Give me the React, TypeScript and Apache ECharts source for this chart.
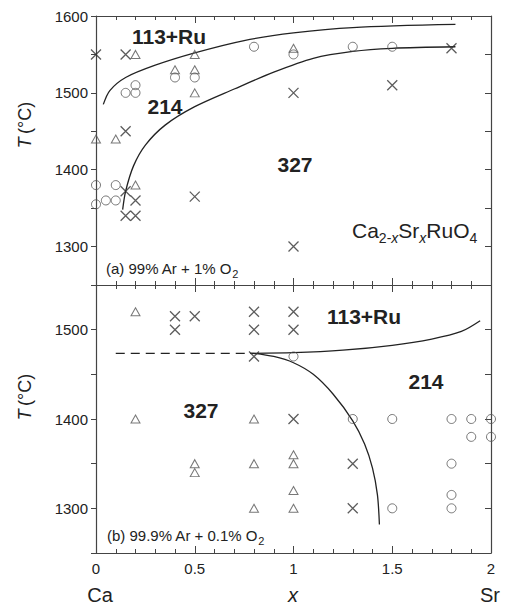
import React, { useEffect, useRef } from "react";
import * as echarts from "echarts";

// ---------- data (x = Sr content, T in °C) ----------
const xTickValues = [0, 0.5, 1, 1.5, 2];

// Panel (a): 99% Ar + 1% O2
const topCircles = [
  [0, 1380], [0.1, 1380], [0, 1355], [0.05, 1360], [0.1, 1360],
  [0.15, 1500], [0.2, 1500], [0.2, 1510], [0.4, 1520], [0.5, 1520],
  [0.8, 1560], [1, 1550], [1.3, 1560], [1.5, 1560],
];
const topTriangles = [
  [0.2, 1550], [0.5, 1550], [1, 1558], [0.4, 1530], [0.5, 1530],
  [0.5, 1500], [0, 1440], [0.1, 1440], [0.2, 1380],
];
const topCrosses = [
  [0, 1550], [0.15, 1550], [0.15, 1450], [0.15, 1372], [0.2, 1360],
  [0.15, 1340], [0.2, 1340], [0.5, 1365], [1, 1500], [1, 1300],
  [1.5, 1510], [1.8, 1558],
];
const topUpperCurve = [
  [0.037, 1485], [0.07, 1503], [0.15, 1520], [0.3, 1536], [0.5, 1552],
  [0.75, 1568], [1, 1578], [1.3, 1585], [1.82, 1589],
];
const topLowerCurve = [
  [0.135, 1348], [0.15, 1372], [0.19, 1405], [0.25, 1432], [0.35, 1458],
  [0.5, 1482], [0.7, 1505], [0.9, 1527], [1.1, 1545], [1.3, 1554],
  [1.5, 1558], [1.82, 1560],
];

// Panel (b): 99.9% Ar + 0.1% O2
const botCircles = [
  [1, 1470], [1.3, 1400], [1.5, 1400], [1.8, 1400], [1.9, 1400], [2, 1400],
  [1.9, 1380], [2, 1380], [1.8, 1350], [1.8, 1315], [1.8, 1300], [1.5, 1300],
];
const botTriangles = [
  [0.2, 1520], [0.2, 1400], [0.8, 1400], [0.5, 1350], [0.5, 1340],
  [0.8, 1350], [1, 1360], [1, 1350], [1, 1320], [0.8, 1300], [1, 1300],
];
const botCrosses = [
  [0.4, 1515], [0.5, 1515], [0.4, 1500], [0.8, 1520], [0.8, 1500],
  [1, 1520], [1, 1500], [0.8, 1470], [1, 1400], [1.3, 1350], [1.3, 1300],
];
const botDashed = [[0.1, 1473.5], [0.8, 1473.5]];
const botUpperCurve = [
  [0.78, 1473.5], [1.0, 1474.2], [1.25, 1477], [1.5, 1482.5], [1.7, 1489.5],
  [1.85, 1498], [1.945, 1510],
];
const botLowerCurve = [
  [0.8, 1473.5], [0.9, 1470], [1.0, 1463], [1.1, 1450], [1.2, 1428],
  [1.3, 1398], [1.36, 1372], [1.4, 1345], [1.425, 1315], [1.435, 1282],
];

const FONT = "'Liberation Sans', Arial, Helvetica, sans-serif";
const INK = "#222";
const AX = "#444";

const crossPath = "path://M0,0L10,10M0,10L10,0";

function xAxis(gridIndex: number, position: string, showLabel: boolean) {
  return {
    type: "value",
    gridIndex,
    position,
    min: 0,
    max: 2,
    interval: 0.5,
    axisLine: { show: true, onZero: false, lineStyle: { color: AX, width: 1.2 } },
    axisTick: { show: true, inside: true, length: 7, lineStyle: { color: AX, width: 1 } },
    minorTick: { show: true, splitNumber: 5, length: 4, lineStyle: { color: AX, width: 1 } },
    splitLine: { show: false },
    minorSplitLine: { show: false },
    axisLabel: {
      show: showLabel,
      margin: 8,
      fontSize: 15,
      color: INK,
      fontFamily: FONT,
      showMinLabel: true,
      showMaxLabel: true,
      formatter: (v: number) => (xTickValues.includes(v) ? String(v) : ""),
    },
  };
}

function yAxis(gridIndex: number, position: string, min: number, max: number) {
  const left = position === "left";
  return {
    type: "value",
    gridIndex,
    position,
    min,
    max,
    interval: 50,
    axisLine: { show: true, onZero: false, lineStyle: { color: AX, width: 1.2 } },
    axisTick: { show: true, inside: !left, length: left ? 5 : 6, lineStyle: { color: AX, width: 1 } },
    splitLine: { show: false },
    axisLabel: {
      show: left,
      margin: 8,
      fontSize: 15,
      color: INK,
      fontFamily: FONT,
      showMinLabel: true,
      showMaxLabel: true,
      formatter: (v: number) => (v % 100 === 0 ? String(v) : ""),
    },
  };
}

function scatter(data: number[][], kind: string, xi: number, yi: number) {
  const base: any = {
    type: "scatter",
    xAxisIndex: xi,
    yAxisIndex: yi,
    data,
    clip: false,
    z: 3,
  };
  if (kind === "circle") {
    base.symbol = "circle";
    base.symbolSize = 9;
    base.itemStyle = { color: "transparent", borderColor: "#555", borderWidth: 1 };
  } else if (kind === "triangle") {
    base.symbol = "triangle";
    base.symbolSize = [9, 8];
    base.itemStyle = { color: "transparent", borderColor: "#555", borderWidth: 1 };
  } else {
    base.symbol = crossPath;
    base.symbolSize = 10;
    base.itemStyle = { color: "transparent", borderColor: "#333", borderWidth: 1.3 };
  }
  return base;
}

function curve(data: number[][], xi: number, yi: number, dashed = false) {
  return {
    type: "line",
    xAxisIndex: xi,
    yAxisIndex: yi,
    data,
    showSymbol: false,
    symbol: "none",
    smooth: dashed ? false : 0.3,
    clip: false,
    lineStyle: { color: INK, width: 1.3, type: dashed ? [9, 6] : "solid" },
    z: 2,
  };
}

function txt(x: number, y: number, text: string, size: number, extra: any = {}) {
  return {
    type: "text",
    x,
    y,
    z: 10,
    style: {
      text,
      fontSize: size,
      fontFamily: FONT,
      fill: INK,
      align: "center",
      verticalAlign: "middle",
      ...extra,
    },
  };
}

export default function App() {
  const ref = useRef<HTMLDivElement>(null);

  useEffect(() => {
    if (!ref.current) return;
    const chart = echarts.init(ref.current, undefined, { renderer: "svg" });

    const subRich = {
      m: { fontSize: 21, fontFamily: FONT, fill: INK, lineHeight: 30, verticalAlign: "middle" },
      s: { fontSize: 14, fontFamily: FONT, fill: INK, lineHeight: 14, verticalAlign: "bottom" },
      si: { fontSize: 14, fontFamily: FONT, fill: INK, lineHeight: 14, verticalAlign: "bottom", fontStyle: "italic" },
    };
    const noteRich = {
      m: { fontSize: 15, fontFamily: FONT, fill: INK, lineHeight: 22, verticalAlign: "middle" },
      s: { fontSize: 11, fontFamily: FONT, fill: INK, lineHeight: 11, verticalAlign: "bottom" },
    };
    const tRich = {
      i: { fontSize: 18, fontFamily: FONT, fill: INK, fontStyle: "italic" },
      m: { fontSize: 18, fontFamily: FONT, fill: INK },
    };

    chart.setOption({
      animation: false,
      backgroundColor: "#fff",
      grid: [
        { left: 96, top: 16, width: 395, height: 269, show: false },
        { left: 96, top: 285, width: 395, height: 268, show: false },
      ],
      xAxis: [xAxis(0, "bottom", false), xAxis(0, "top", false), xAxis(1, "bottom", true), xAxis(1, "top", false)],
      yAxis: [
        yAxis(0, "left", 1250, 1600),
        yAxis(0, "right", 1250, 1600),
        yAxis(1, "left", 1250, 1550),
        yAxis(1, "right", 1250, 1550),
      ],
      series: [
        curve(topUpperCurve, 0, 0),
        curve(topLowerCurve, 0, 0),
        scatter(topCircles, "circle", 0, 0),
        scatter(topTriangles, "triangle", 0, 0),
        scatter(topCrosses, "cross", 0, 0),
        curve(botDashed, 2, 2, true),
        curve(botUpperCurve, 2, 2),
        curve(botLowerCurve, 2, 2),
        scatter(botCircles, "circle", 2, 2),
        scatter(botTriangles, "triangle", 2, 2),
        scatter(botCrosses, "cross", 2, 2),
      ],
      graphic: [
        // panel (a) labels
        txt(169, 36, "113+Ru", 21, { fontWeight: "bold" }),
        txt(165, 106, "214", 21, { fontWeight: "bold" }),
        txt(295, 164, "327", 21, { fontWeight: "bold" }),
        {
          type: "text",
          x: 352,
          y: 230,
          z: 10,
          style: {
            text: "{m|Ca}{s|2-}{si|x}{m|Sr}{si|x}{m|RuO}{s|4}",
            rich: subRich,
            align: "left",
            verticalAlign: "middle",
            fontFamily: FONT,
          },
        },
        {
          type: "text",
          x: 106,
          y: 268,
          z: 10,
          style: {
            text: "{m|(a) 99% Ar + 1% O}{s|2}",
            rich: noteRich,
            align: "left",
            verticalAlign: "middle",
            fontFamily: FONT,
          },
        },
        // panel (b) labels
        txt(364, 316, "113+Ru", 21, { fontWeight: "bold" }),
        txt(426, 381, "214", 21, { fontWeight: "bold" }),
        txt(201, 410, "327", 21, { fontWeight: "bold" }),
        {
          type: "text",
          x: 107,
          y: 535,
          z: 10,
          style: {
            text: "{m|(b) 99.9% Ar + 0.1% O}{s|2}",
            rich: noteRich,
            align: "left",
            verticalAlign: "middle",
            fontFamily: FONT,
          },
        },
        // y-axis titles
        {
          type: "text",
          x: 25,
          y: 125,
          rotation: Math.PI / 2,
          z: 10,
          style: { text: "{i|T} {m|(°C)}", rich: tRich, align: "center", verticalAlign: "middle", fontFamily: FONT },
        },
        {
          type: "text",
          x: 25,
          y: 397,
          rotation: Math.PI / 2,
          z: 10,
          style: { text: "{i|T} {m|(°C)}", rich: tRich, align: "center", verticalAlign: "middle", fontFamily: FONT },
        },
        // x-axis titles
        txt(100, 595, "Ca", 20),
        txt(293, 595, "x", 20, { fontStyle: "italic" }),
        txt(490, 595, "Sr", 20),
      ],
    });

    return () => chart.dispose();
  }, []);

  return (
    <div
      ref={ref}
      style={{ position: "fixed", left: 0, top: 0, width: 505, height: 606, background: "#fff" }}
    />
  );
}
